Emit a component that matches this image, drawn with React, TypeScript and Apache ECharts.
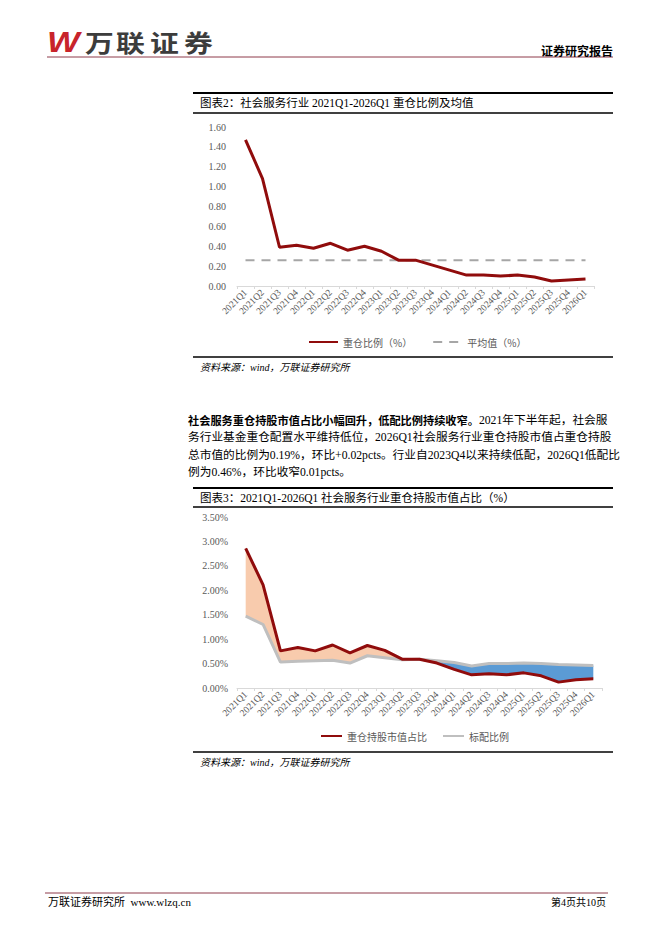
import React, { useEffect, useRef } from "react";
import * as echarts from "echarts";

const quarters = [
  "2021Q1", "2021Q2", "2021Q3", "2021Q4",
  "2022Q1", "2022Q2", "2022Q3", "2022Q4",
  "2023Q1", "2023Q2", "2023Q3", "2023Q4",
  "2024Q1", "2024Q2", "2024Q3", "2024Q4",
  "2025Q1", "2025Q2", "2025Q3", "2025Q4",
  "2026Q1",
];

// 图表2
const heavyRatio = [1.47, 1.08, 0.39, 0.41, 0.38, 0.43, 0.36, 0.40, 0.35, 0.26, 0.26, 0.21, 0.16, 0.11, 0.11, 0.10, 0.11, 0.09, 0.05, 0.06, 0.07];
const avgRatio = [0.26, 0.26, 0.26, 0.26, 0.26, 0.26, 0.26, 0.26, 0.26, 0.26, 0.26, 0.26, 0.26, 0.26, 0.26, 0.26, 0.26, 0.26, 0.26, 0.26, 0.26];
const yTicks1 = [0, 0.2, 0.4, 0.6, 0.8, 1.0, 1.2, 1.4, 1.6];

// 图表3
const holdShare = [2.86, 2.11, 0.76, 0.83, 0.76, 0.88, 0.72, 0.87, 0.77, 0.59, 0.59, 0.51, 0.38, 0.27, 0.29, 0.27, 0.31, 0.25, 0.12, 0.17, 0.19];
const standardShare = [1.47, 1.30, 0.53, 0.55, 0.56, 0.57, 0.51, 0.66, 0.62, 0.58, 0.59, 0.56, 0.52, 0.45, 0.50, 0.50, 0.51, 0.50, 0.48, 0.47, 0.46];
const yTicks2 = [0, 0.5, 1.0, 1.5, 2.0, 2.5, 3.0, 3.5];

const legend1 = ["重仓比例（%）", "平均值（%）"];
const legend2 = ["重仓持股市值占比", "标配比例"];

const SERIF = '"Liberation Serif", "Noto Sans CJK SC", serif';
const CJK = '"Noto Sans CJK SC", "Liberation Serif", sans-serif';
const RED = "#900C0C";
const AXIS_TXT = "#595959";

const paragraph = [
  { b: "社会服务重仓持股市值占比小幅回升，低配比例持续收窄。", n: "2021年下半年起，社会服" },
  { b: "", n: "务行业基金重仓配置水平维持低位，2026Q1社会服务行业重仓持股市值占重仓持股" },
  { b: "", n: "总市值的比例为0.19%，环比+0.02pcts。行业自2023Q4以来持续低配，2026Q1低配比" },
  { b: "", n: "例为0.46%，环比收窄0.01pcts。" },
];

export default function App() {
  const ref = useRef<HTMLDivElement>(null);

  useEffect(() => {
    if (!ref.current) return;
    const chart = echarts.init(ref.current, undefined, { renderer: "svg" });

    const lowerEdge = holdShare.map((v, i) => Math.min(v, standardShare[i]));
    const overGap = holdShare.map((v, i) => Math.max(v - standardShare[i], 0));
    const underGap = holdShare.map((v, i) => Math.max(standardShare[i] - v, 0));

    const rule = (x1: number, x2: number, y: number, w: number, color = "#000") => ({
      type: "line",
      shape: { x1, y1: y, x2, y2: y },
      style: { stroke: color, lineWidth: w },
      silent: true,
    });
    const txt = (x: number, y: number, text: string, font: string, extra: any = {}) => ({
      type: "text",
      x,
      y,
      style: { text, font, fill: "#000", verticalAlign: "middle", align: "left", ...extra },
      silent: true,
    });

    const logoChars = ["万", "联", "证", "券"];
    const logoX = [85, 116, 150, 184];

    const graphic: any[] = [
      // header
      {
        type: "text", x: 47, y: 42, scaleX: 1.15,
        style: { text: "W", font: 'italic bold 30px "Liberation Sans", sans-serif', fill: "#C8242B", verticalAlign: "middle" },
      },
      ...logoChars.map((c, i) => ({
        type: "text", x: logoX[i], y: 42, scaleX: 1.2,
        style: { text: c, font: 'bold 24px "Noto Sans CJK SC", sans-serif', fill: "#3C3C3C", verticalAlign: "middle" },
      })),
      rule(47, 613, 57, 1, "#8E3B4B"),
      txt(613, 50, "证券研究报告", 'bold 12px "Noto Sans CJK SC", serif', { align: "right" }),

      // chart 1 frame
      rule(193, 613, 93, 2.2),
      txt(200, 103, "图表2：社会服务行业 2021Q1-2026Q1 重仓比例及均值", "11.5px " + SERIF),
      rule(193, 613, 113, 1.5),
      rule(193, 613, 357, 1.5),
      txt(200, 367, "资料来源：wind，万联证券研究所", "italic 10px " + SERIF),

      // paragraph
      ...paragraph.map((p, i) => ({
        type: "text",
        x: 188,
        y: 420 + i * 17.5,
        style: {
          text: (p.b ? "{b|" + p.b + "}" : "") + "{n|" + p.n + "}",
          verticalAlign: "middle",
          rich: {
            b: { font: 'bold 11.2px "Noto Sans CJK SC", serif', fill: "#000" },
            n: { font: "11.7px " + SERIF, fill: "#000" },
          },
        },
        silent: true,
      })),

      // chart 2 frame
      rule(193, 613, 488, 2.2),
      txt(200, 498, "图表3：2021Q1-2026Q1 社会服务行业重仓持股市值占比（%）", "11.5px " + SERIF),
      rule(193, 613, 507, 1.5),
      rule(193, 613, 752, 1.5),
      txt(200, 762, "资料来源：wind，万联证券研究所", "italic 10px " + SERIF),

      // footer
      rule(45, 608, 893, 1, "#8E3B4B"),
      txt(48, 902, "万联证券研究所  www.wlzq.cn", "11px " + SERIF),
      txt(606, 902, "第4页共10页", "10px " + SERIF, { align: "right" }),
    ];

    const xAxisCommon = {
      type: "category",
      data: quarters,
      boundaryGap: true,
      axisLine: { lineStyle: { color: "#D9D9D9", width: 1 } },
      axisTick: { show: true, length: 3, lineStyle: { color: "#D9D9D9" } },
      axisLabel: {
        rotate: 45,
        interval: 0,
        margin: 5,
        fontSize: 9.5,
        fontFamily: SERIF,
        color: AXIS_TXT,
      },
      splitLine: { show: false },
    };

    const option: any = {
      animation: false,
      backgroundColor: "#fff",
      grid: [
        { left: 237, right: 68, top: 127, height: 159, containLabel: false },
        { left: 237, right: 60, top: 517, height: 171, containLabel: false },
      ],
      xAxis: [
        { ...xAxisCommon, gridIndex: 0 },
        { ...xAxisCommon, gridIndex: 1 },
      ],
      yAxis: [
        {
          type: "value",
          gridIndex: 0,
          min: yTicks1[0],
          max: yTicks1[yTicks1.length - 1],
          interval: 0.2,
          axisLine: { show: false },
          axisTick: { show: false },
          splitLine: { show: false },
          axisLabel: {
            margin: 11,
            fontSize: 10,
            fontFamily: SERIF,
            color: AXIS_TXT,
            formatter: (v: number) => v.toFixed(2),
          },
        },
        {
          type: "value",
          gridIndex: 1,
          min: yTicks2[0],
          max: yTicks2[yTicks2.length - 1],
          interval: 0.5,
          axisLine: { show: false },
          axisTick: { show: false },
          splitLine: { show: false },
          axisLabel: {
            margin: 9,
            fontSize: 10,
            fontFamily: SERIF,
            color: AXIS_TXT,
            formatter: (v: number) => v.toFixed(2) + "%",
          },
        },
      ],
      legend: [
        {
          data: legend1,
          left: 303,
          top: 332,
          itemWidth: 29,
          itemHeight: 10,
          itemGap: 20,
          itemStyle: { opacity: 0 },
          textStyle: { fontSize: 10, fontFamily: CJK, color: AXIS_TXT },
        },
        {
          data: legend2,
          left: 315,
          top: 726,
          itemWidth: 21,
          itemHeight: 10,
          itemGap: 15,
          itemStyle: { opacity: 0 },
          textStyle: { fontSize: 10, fontFamily: CJK, color: AXIS_TXT },
        },
      ],
      graphic,
      series: [
        {
          name: legend1[0],
          type: "line",
          xAxisIndex: 0,
          yAxisIndex: 0,
          data: heavyRatio,
          symbol: "none",
          lineStyle: { color: RED, width: 3 },
          itemStyle: { color: RED },
          z: 3,
        },
        {
          name: legend1[1],
          type: "line",
          xAxisIndex: 0,
          yAxisIndex: 0,
          data: avgRatio,
          symbol: "none",
          lineStyle: { color: "#A6A6A6", width: 2, type: [9, 7] },
          itemStyle: { color: "#A6A6A6" },
          z: 2,
        },
        {
          name: "base",
          type: "line",
          xAxisIndex: 1,
          yAxisIndex: 1,
          stack: "gap",
          data: lowerEdge,
          symbol: "none",
          lineStyle: { opacity: 0, width: 0 },
          silent: true,
          z: 1,
        },
        {
          name: "over",
          type: "line",
          xAxisIndex: 1,
          yAxisIndex: 1,
          stack: "gap",
          data: overGap,
          symbol: "none",
          lineStyle: { opacity: 0, width: 0 },
          areaStyle: { color: "#F8CBAD", opacity: 1 },
          silent: true,
          z: 1,
        },
        {
          name: "under",
          type: "line",
          xAxisIndex: 1,
          yAxisIndex: 1,
          stack: "gap",
          data: underGap,
          symbol: "none",
          lineStyle: { opacity: 0, width: 0 },
          areaStyle: { color: "#5B9BD5", opacity: 1 },
          silent: true,
          z: 1,
        },
        {
          name: legend2[1],
          type: "line",
          xAxisIndex: 1,
          yAxisIndex: 1,
          data: standardShare,
          symbol: "none",
          lineStyle: { color: "#BFBFBF", width: 3 },
          itemStyle: { color: "#A6A6A6" },
          z: 2,
        },
        {
          name: legend2[0],
          type: "line",
          xAxisIndex: 1,
          yAxisIndex: 1,
          data: holdShare,
          symbol: "none",
          lineStyle: { color: RED, width: 3 },
          itemStyle: { color: RED },
          z: 3,
        },
      ],
    };

    chart.setOption(option);
    return () => chart.dispose();
  }, []);

  return (
    <div
      ref={ref}
      style={{ position: "absolute", left: 0, top: 0, width: 662, height: 936, background: "#fff" }}
    />
  );
}
